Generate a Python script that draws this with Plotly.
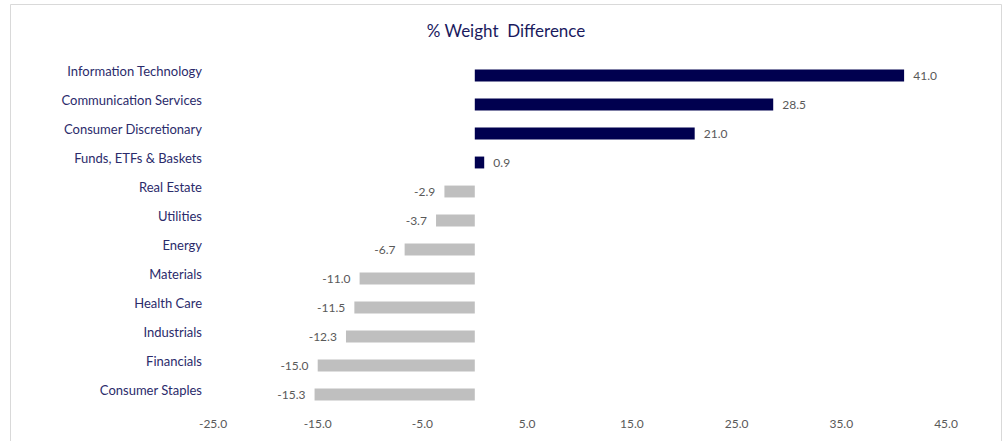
import plotly.graph_objects as go

categories = [
    "Information Technology", "Communication Services", "Consumer Discretionary",
    "Funds, ETFs & Baskets", "Real Estate", "Utilities", "Energy", "Materials",
    "Health Care", "Industrials", "Financials", "Consumer Staples",
]
values = [41.0, 28.5, 21.0, 0.9, -2.9, -3.7, -6.7, -11.0, -11.5, -12.3, -15.0, -15.3]
tick_vals = [-25, -15, -5, 5, 15, 25, 35, 45]
tick_text = ["-25.0", "-15.0", "-5.0", "5.0", "15.0", "25.0", "35.0", "45.0"]

POS = "#00004F"
NEG = "#BFBFBF"
colors = [POS if v >= 0 else NEG for v in values]
labels = [("\u00a0\u00a0%.1f" % v) if v >= 0 else (("%.1f" % v) + "\u00a0\u00a0") for v in values]

W, H = 1006, 441
ml, mr, mt, mb = 213, 60, 61, 32
pw, ph = W - ml - mr, H - mt - mb

fig = go.Figure(go.Bar(
    x=values, y=categories, orientation="h",
    marker=dict(color=colors, line=dict(width=0)),
    text=labels, textposition="outside", constraintext="none",
    textfont=dict(family="Lato", size=12, color="#595959"),
    cliponaxis=False, hoverinfo="skip",
))

fig.update_layout(
    width=W, height=H,
    margin=dict(l=ml, r=mr, t=mt, b=mb, autoexpand=False),
    paper_bgcolor="white", plot_bgcolor="white",
    bargap=0.59,
    showlegend=False,
    title=dict(text="% Weight\u00a0 Difference", x=0.503, xref="container", xanchor="center",
               y=1 - 31 / H, yref="container", yanchor="middle",
               font=dict(family="Lato", size=17, color="#1A1A5E")),
    xaxis=dict(range=[-25, 45], tickvals=tick_vals, ticktext=tick_text,
               showgrid=False, zeroline=False, showline=False, ticks="",
               ticklabelstandoff=6, automargin=False,
               tickfont=dict(family="Lato", size=12, color="#595959")),
    yaxis=dict(categoryorder="array", categoryarray=categories, autorange="reversed",
               showgrid=False, zeroline=False, showline=False, ticks="",
               ticklabelstandoff=10, ticklabelshift=4, automargin=False,
               tickfont=dict(family="Lato", size=13, color="#2B2B6B")),
    shapes=[dict(type="rect", xref="paper", yref="paper",
                 x0=(10.5 - ml) / pw, x1=(1001.5 - ml) / pw,
                 y0=(H - mb - 446) / ph, y1=(H - mb - 4.5) / ph,
                 line=dict(color="#D9D9D9", width=1), fillcolor="rgba(0,0,0,0)",
                 layer="below")],
)

fig.write_html("out.html", config={"displayModeBar": False},
               post_script="document.body.style.margin='0';")
